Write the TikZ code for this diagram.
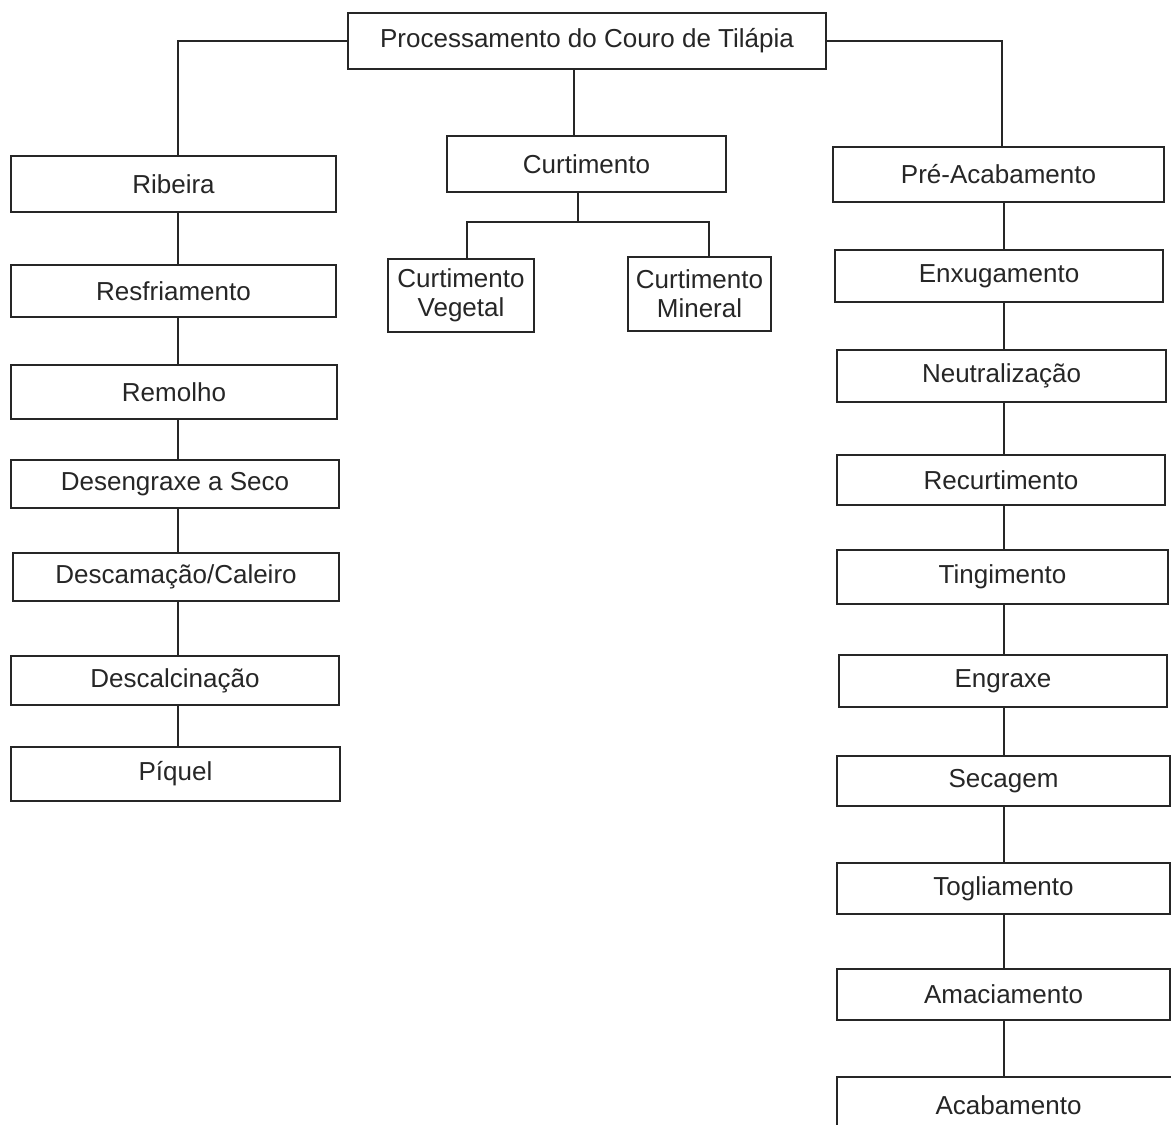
\documentclass[tikz,border=0pt]{standalone}
\usepackage{fontspec}
\setmainfont{Liberation Sans}
\begin{document}
\begin{tikzpicture}[x=0.5pt,y=-0.5pt,
  box/.style={draw=black!85, line width=1pt, fill=white, inner sep=0pt,
    font=\fontsize{13pt}{14.5pt}\selectfont, text=black!85, align=center},
  bx/.style 2 args={minimum width=#1*0.5pt, minimum height=#2*0.5pt},
  link/.style={draw=black!85, line width=1pt}]
\clip (0,0) rectangle (1171,1124);
\fill[white] (0,0) rectangle (1171,1124);
% top
\node[box,bx={478}{56}] (top) at (587,41) {Processamento do Couro de Tilápia};
% centre
\node[box,bx={279}{56}] (curt) at (586.5,164) {Curtimento};
\node[box,bx={146}{73}] (veg) at (461,295.5) {Curtimento\\Vegetal};
\node[box,bx={143}{74}] (min) at (699.5,294) {Curtimento\\Mineral};
% left column
\node[box,bx={325}{56}] (rib) at (173.5,184) {Ribeira};
\node[box,bx={325}{52}] (resf) at (173.5,291) {Resfriamento};
\node[box,bx={326}{54}] (rem) at (174,392) {Remolho};
\node[box,bx={328}{48}] (des) at (175,484) {Desengraxe a Seco};
\node[box,bx={326}{48}] (dcam) at (176,577) {Descamação/Caleiro};
\node[box,bx={328}{49}] (dcal) at (175,680.5) {Descalcinação};
\node[box,bx={329}{54}] (piq) at (175.5,774) {Píquel};
% right column
\node[box,bx={331}{55}] (pre) at (998.5,174.5) {Pré-Acabamento};
\node[box,bx={328}{52}] (enx) at (999,276) {Enxugamento};
\node[box,bx={329}{52}] (neu) at (1001.5,376) {Neutralização};
\node[box,bx={328}{50}] (rec) at (1001,480) {Recurtimento};
\node[box,bx={331}{54}] (tin) at (1002.5,577) {Tingimento};
\node[box,bx={328}{52}] (eng) at (1003,681) {Engraxe};
\node[box,bx={333}{50}] (sec) at (1003.5,781) {Secagem};
\node[box,bx={333}{51}] (tog) at (1003.5,888.5) {Togliamento};
\node[box,bx={333}{51}] (ama) at (1003.5,994.5) {Amaciamento};
\node[box,bx={343}{56}] (aca) at (1008.5,1105) {Acabamento};
% guide coordinates
\coordinate (xl) at (178,0);
\coordinate (xc) at (574,0);
\coordinate (xc2) at (578,0);
\coordinate (xr) at (1004,0);
\coordinate (bc) at (578,222);
% connectors
\draw[link] (top.west) -| (rib.north -| xl);
\draw[link] (top.east) -| (pre.north -| 1002,0);
\draw[link] (top.south -| xc) -- (curt.north -| xc);
\draw[link] (curt.south -| xc2) -- (bc);
\draw[link] (veg.north -| 467,0) |- (bc) -| (min.north -| 709,0);
\foreach \a/\b in {rib/resf,resf/rem,rem/des,des/dcam,dcam/dcal,dcal/piq}
  \draw[link] (\a.south -| xl) -- (\b.north -| xl);
\foreach \a/\b in {pre/enx,enx/neu,neu/rec,rec/tin,tin/eng,eng/sec,sec/tog,tog/ama,ama/aca}
  \draw[link] (\a.south -| xr) -- (\b.north -| xr);
\end{tikzpicture}
\end{document}
